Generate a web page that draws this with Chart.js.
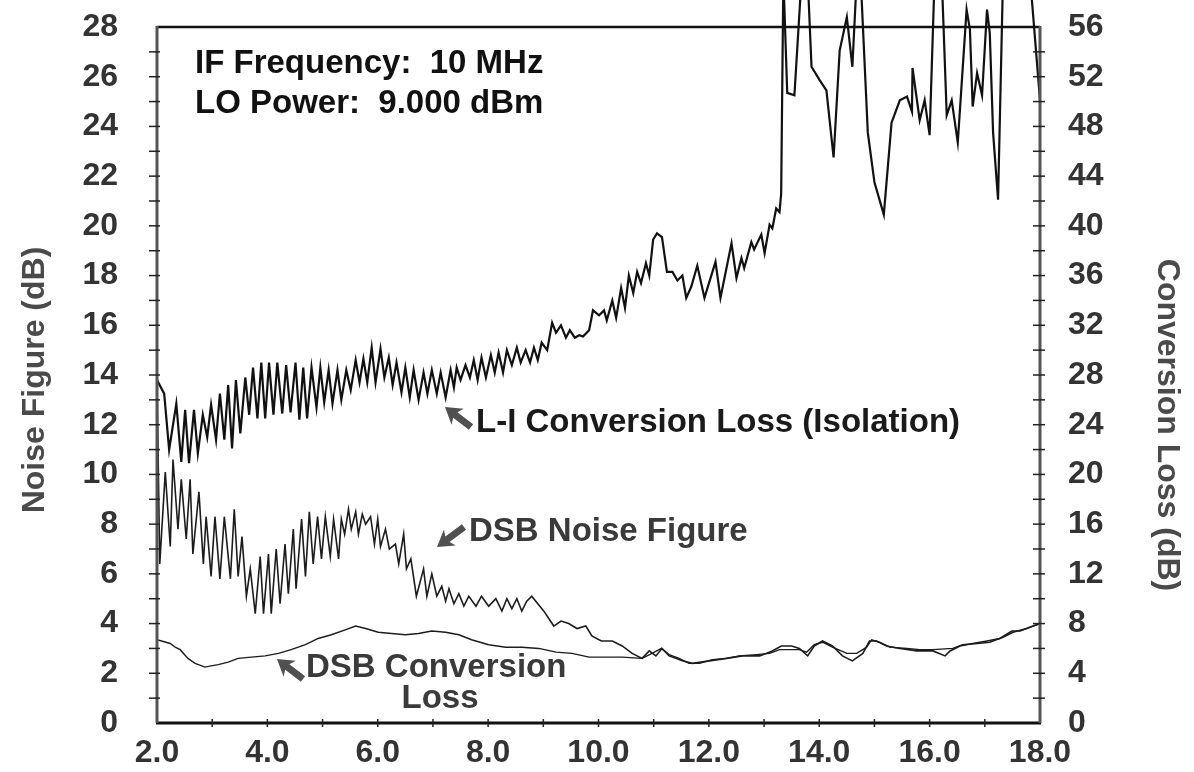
<!DOCTYPE html>
<html>
<head>
<meta charset="utf-8">
<title>Mixer NF / Conversion Loss</title>
<script src="https://cdn.jsdelivr.net/npm/chart.js@4.4.1/dist/chart.umd.min.js"></script>
<style>
  html, body { margin: 0; padding: 0; background: #fff; }
  #wrap { width: 1194px; height: 772px; position: relative; }
</style>
</head>
<body>
<div id="wrap"><canvas id="mixerChart"></canvas></div>
<script>
// frequency in GHz, [freq, dB]
// L-I conversion loss (isolation), right axis
const isolation = [
  [2.00,27.6],[2.13,26.5],[2.22,22.0],[2.35,25.7],[2.44,21.0],[2.51,25.2],[2.58,20.9],[2.67,25.2],
  [2.74,21.7],[2.83,24.8],[2.91,23.0],[2.98,25.6],[3.07,22.8],[3.14,26.5],[3.22,22.8],[3.29,27.2],
  [3.36,22.1],[3.43,27.6],[3.51,23.3],[3.60,27.8],[3.67,24.8],[3.74,28.6],[3.82,24.5],[3.89,29.0],
  [3.96,24.5],[4.03,29.0],[4.11,24.8],[4.18,29.0],[4.27,24.9],[4.34,28.8],[4.42,25.0],[4.51,29.0],
  [4.58,24.4],[4.65,28.6],[4.72,24.5],[4.80,28.6],[4.89,25.4],[4.96,28.6],[5.03,25.8],[5.11,28.4],
  [5.18,25.7],[5.27,28.4],[5.34,26.0],[5.43,28.4],[5.51,26.8],[5.60,29.2],[5.67,27.4],[5.74,29.3],
  [5.81,27.4],[5.89,30.2],[5.96,27.4],[6.05,30.1],[6.12,27.8],[6.20,29.4],[6.27,27.2],[6.34,29.0],
  [6.43,26.6],[6.50,28.6],[6.58,26.2],[6.65,28.4],[6.74,26.0],[6.83,28.2],[6.90,26.5],[6.98,28.4],
  [7.07,26.5],[7.14,28.2],[7.23,26.2],[7.32,28.4],[7.38,27.0],[7.43,28.6],[7.50,27.6],[7.59,28.8],
  [7.67,27.8],[7.74,29.2],[7.81,27.6],[7.88,29.4],[7.96,27.8],[8.05,29.6],[8.12,28.2],[8.19,29.8],
  [8.27,28.2],[8.34,30.0],[8.43,28.8],[8.52,30.2],[8.59,29.0],[8.68,30.0],[8.76,29.0],[8.83,30.2],
  [8.90,29.2],[8.97,30.6],[9.07,30.0],[9.16,32.2],[9.23,31.4],[9.32,32.0],[9.41,31.0],[9.48,31.6],
  [9.57,31.0],[9.65,31.2],[9.72,31.1],[9.83,31.6],[9.90,33.2],[10.01,32.8],[10.10,33.2],[10.15,32.4],
  [10.25,34.0],[10.32,32.6],[10.41,35.0],[10.48,33.4],[10.55,36.0],[10.63,34.6],[10.70,36.3],[10.77,35.4],
  [10.86,37.0],[10.92,36.0],[10.99,38.9],[11.06,39.4],[11.15,39.1],[11.24,36.3],[11.34,36.3],[11.43,35.6],
  [11.52,36.0],[11.59,34.2],[11.68,35.1],[11.79,36.8],[11.92,34.2],[12.12,37.1],[12.21,34.2],[12.41,38.6],
  [12.50,35.8],[12.59,37.4],[12.64,36.6],[12.77,38.7],[12.82,38.1],[12.95,39.3],[13.01,37.8],[13.10,40.1],
  [13.15,39.8],[13.22,41.4],[13.28,41.1],[13.31,42.6],[13.35,60],[13.42,50.7],[13.55,50.5],[13.68,60],
  [13.79,60],[13.86,52.8],[14.01,51.7],[14.13,50.9],[14.26,45.5],[14.37,54.1],[14.50,56.8],[14.60,52.8],
  [14.68,60],[14.75,60],[14.88,47.5],[15.00,43.5],[15.17,40.9],[15.31,48.3],[15.46,50.1],[15.59,50.4],
  [15.68,49.2],[15.69,52.7],[15.82,48.5],[15.91,50.1],[16.00,47.3],[16.09,60],[16.22,60],[16.31,48.9],
  [16.40,50.1],[16.51,46.7],[16.67,57.4],[16.73,55.8],[16.78,49.6],[16.86,52.3],[16.95,50.5],[17.04,57.4],
  [17.09,55.5],[17.15,47.5],[17.24,42.1],[17.33,60],[17.82,60],[18.00,50.1]
];

// DSB noise figure, left axis
const noiseFigure = [
  [2.00,13.8],[2.05,6.4],[2.15,10.1],[2.24,7.1],[2.29,10.6],[2.38,7.8],[2.44,9.8],[2.53,7.4],
  [2.60,9.8],[2.65,6.8],[2.76,9.3],[2.84,6.4],[2.89,8.3],[2.98,5.9],[3.05,8.3],[3.14,5.8],
  [3.22,8.3],[3.33,5.8],[3.40,8.6],[3.47,5.9],[3.54,7.5],[3.62,5.1],[3.69,6.2],[3.78,4.4],
  [3.87,6.7],[3.93,4.4],[4.02,6.8],[4.07,4.4],[4.16,7.0],[4.23,4.8],[4.32,7.2],[4.38,5.2],
  [4.47,7.8],[4.52,5.4],[4.62,8.2],[4.69,5.9],[4.76,8.5],[4.83,6.4],[4.91,8.3],[4.98,6.6],
  [5.05,8.3],[5.14,6.7],[5.20,8.2],[5.29,6.6],[5.34,8.2],[5.40,7.6],[5.47,8.6],[5.52,7.8],
  [5.60,8.5],[5.65,7.6],[5.72,8.4],[5.78,8.0],[5.87,8.3],[5.94,7.2],[6.00,8.2],[6.05,7.1],
  [6.14,7.8],[6.21,7.0],[6.32,7.2],[6.38,6.4],[6.47,7.6],[6.52,6.2],[6.60,6.6],[6.70,5.1],
  [6.83,6.2],[6.89,5.1],[6.98,6.0],[7.07,5.1],[7.16,5.5],[7.23,4.9],[7.29,5.4],[7.38,4.8],
  [7.47,5.2],[7.56,4.7],[7.65,5.1],[7.78,4.7],[7.88,5.1],[8.01,4.7],[8.14,5.0],[8.25,4.5],
  [8.34,5.0],[8.43,4.6],[8.52,5.0],[8.61,4.5],[8.70,4.9],[8.79,5.1],[9.01,4.5],[9.19,3.9],
  [9.32,4.1],[9.46,4.0],[9.61,3.8],[9.77,3.9],[9.88,3.5],[10.05,3.3],[10.15,3.3],[10.25,3.3],
  [10.43,3.1],[10.61,2.8],[10.79,2.6],[10.92,2.9],[11.04,2.7],[11.15,3.0],[11.28,2.7],[11.52,2.5],
  [11.70,2.4],[12.01,2.5],[12.32,2.6],[12.61,2.7],[12.92,2.7],[13.15,2.9],[13.31,3.1],[13.50,3.1],
  [13.64,3.0],[13.79,2.7],[13.91,3.1],[14.06,3.3],[14.24,3.1],[14.42,2.7],[14.60,2.5],[14.79,2.8],
  [14.91,3.3],[15.04,3.3],[15.22,3.1],[15.46,3.0],[15.77,2.9],[16.06,2.9],[16.28,2.7],[16.37,2.9],
  [16.55,3.1],[16.78,3.2],[17.04,3.3],[17.27,3.4],[17.49,3.7],[17.64,3.7],[17.87,3.9],[18.00,4.0]
];

// DSB conversion loss, right axis
const convLoss = [
  [2.00,6.7],[2.24,6.4],[2.33,6.1],[2.42,5.9],[2.56,5.2],[2.69,4.8],[2.87,4.5],[2.98,4.6],
  [3.11,4.7],[3.29,4.9],[3.47,5.2],[3.71,5.3],[3.96,5.4],[4.20,5.6],[4.43,5.9],[4.69,6.3],
  [4.92,6.8],[5.16,7.1],[5.41,7.5],[5.60,7.8],[5.78,7.6],[6.01,7.3],[6.25,7.2],[6.50,7.1],
  [6.74,7.2],[6.98,7.4],[7.23,7.3],[7.47,7.1],[7.70,6.7],[8.01,6.3],[8.32,6.1],[8.61,6.1],
  [8.92,6.0],[9.23,5.7],[9.52,5.6],[9.83,5.3],[10.14,5.3],[10.43,5.3],[10.79,5.2],[10.97,5.6],
  [11.14,6.0],[11.28,5.5],[11.46,5.2],[11.64,4.8],[11.83,4.8],[12.06,5.1],[12.32,5.2],[12.55,5.4],
  [12.86,5.5],[13.10,5.6],[13.28,5.9],[13.46,5.9],[13.64,5.9],[13.77,5.7],[13.91,6.3],[14.06,6.5],
  [14.24,6.1],[14.50,5.6],[14.68,5.6],[14.86,6.1],[14.95,6.7],[15.09,6.5],[15.28,6.1],[15.59,6.0],
  [15.82,5.9],[16.06,5.9],[16.42,6.0],[16.60,6.3],[16.86,6.4],[17.09,6.5],[17.33,6.9],[17.51,7.3],
  [17.76,7.6],[18.00,8.0]
];

const FONT = 'Liberation Sans, Arial, Helvetica, sans-serif';

const toXY = arr => arr.map(p => ({ x: p[0], y: p[1] }));

// fixed axis boxes, no label overhang padding
const fixBox = size => s => {
  if (s.isHorizontal()) s.height = size; else s.width = size;
  s.paddingTop = s.paddingBottom = s.paddingLeft = s.paddingRight = 0;
};

// frame, crossing tick marks, axis titles and the call-out labels
const decorations = {
  id: 'decorations',
  afterDatasetsDraw(chart) {
    const { ctx, chartArea: a, scales } = chart;
    ctx.save();

    // frame
    ctx.lineCap = 'butt';
    ctx.strokeStyle = '#111';
    ctx.lineWidth = 2.5;
    ctx.beginPath(); ctx.moveTo(a.left, a.top); ctx.lineTo(a.right, a.top); ctx.stroke();
    ctx.lineWidth = 3;
    ctx.beginPath(); ctx.moveTo(a.left - 1, a.bottom); ctx.lineTo(a.right + 1, a.bottom); ctx.stroke();
    ctx.strokeStyle = '#555';
    ctx.beginPath(); ctx.moveTo(a.left, a.top - 1); ctx.lineTo(a.left, a.bottom); ctx.stroke();
    ctx.beginPath(); ctx.moveTo(a.right, a.top - 1); ctx.lineTo(a.right, a.bottom); ctx.stroke();

    // tick marks
    ctx.lineWidth = 1.5;
    ctx.strokeStyle = '#222';
    for (let v = 1; v < 28; v++) {
      const y = scales.y.getPixelForValue(v);
      ctx.beginPath(); ctx.moveTo(a.left - 8, y); ctx.lineTo(a.left + 3, y); ctx.stroke();
    }
    for (let v = 2; v < 56; v += 2) {
      const y = scales.y2.getPixelForValue(v);
      ctx.beginPath(); ctx.moveTo(a.right - 7, y); ctx.lineTo(a.right + 5, y); ctx.stroke();
    }
    for (let v = 3; v < 18; v++) {
      const x = scales.x.getPixelForValue(v);
      ctx.beginPath(); ctx.moveTo(x, a.bottom - 4); ctx.lineTo(x, a.bottom + 4); ctx.stroke();
    }

    // axis titles
    ctx.fillStyle = '#4a4a4a';
    ctx.font = 'bold 32px ' + FONT;
    ctx.textAlign = 'center';
    ctx.textBaseline = 'middle';
    ctx.save();
    ctx.translate(35, 380);
    ctx.rotate(-Math.PI / 2);
    ctx.fillText('Noise Figure (dB)', 0, 0);
    ctx.restore();
    ctx.save();
    ctx.translate(1167, 425);
    ctx.rotate(Math.PI / 2);
    ctx.fillText('Conversion Loss (dB)', 0, 0);
    ctx.restore();

    // header notes
    ctx.fillStyle = '#111';
    ctx.textAlign = 'left';
    ctx.textBaseline = 'alphabetic';
    ctx.font = 'bold 33px ' + FONT;
    ctx.fillText('IF Frequency:  10 MHz', 195, 73);
    ctx.fillText('LO Power:  9.000 dBm', 195, 113);

    // call-outs
    ctx.fillStyle = '#1a1a1a';
    ctx.fillText('L-I Conversion Loss (Isolation)', 476, 432);
    ctx.fillStyle = '#3a3a3a';
    ctx.fillText('DSB Noise Figure', 469, 541);
    ctx.fillText('DSB Conversion', 306, 677);
    ctx.textAlign = 'center';
    ctx.fillText('Loss', 440, 708);

    arrow(ctx, 471, 427, 445, 407);
    arrow(ctx, 464, 527, 437, 547);
    arrow(ctx, 303, 679, 277, 659);

    ctx.restore();
  }
};

function arrow(ctx, x1, y1, x2, y2) {
  const ang = Math.atan2(y2 - y1, x2 - x1);
  const len = Math.hypot(x2 - x1, y2 - y1);
  ctx.save();
  ctx.translate(x2, y2);
  ctx.rotate(ang);
  ctx.fillStyle = '#505050';
  ctx.beginPath();
  ctx.moveTo(0, 0);
  ctx.lineTo(-16, -10);
  ctx.lineTo(-13, -3.5);
  ctx.lineTo(-len, -3.5);
  ctx.lineTo(-len, 3.5);
  ctx.lineTo(-13, 3.5);
  ctx.lineTo(-16, 10);
  ctx.closePath();
  ctx.fill();
  ctx.restore();
}

const tickFont = { family: FONT, size: 32, weight: 'bold' };

new Chart(document.getElementById('mixerChart'), {
  type: 'line',
  data: {
    datasets: [
      {
        label: 'L-I Conversion Loss (Isolation)',
        data: toXY(isolation),
        yAxisID: 'y2',
        borderColor: '#111',
        borderWidth: 2.2,
        pointRadius: 0,
        tension: 0,
        clip: { left: 2, top: 40, right: 2, bottom: 2 }
      },
      {
        label: 'DSB Noise Figure',
        data: toXY(noiseFigure),
        yAxisID: 'y',
        borderColor: '#1c1c1c',
        borderWidth: 1.6,
        pointRadius: 0,
        tension: 0
      },
      {
        label: 'DSB Conversion Loss',
        data: toXY(convLoss),
        yAxisID: 'y2',
        borderColor: '#1c1c1c',
        borderWidth: 1.4,
        pointRadius: 0,
        tension: 0
      }
    ]
  },
  options: {
    responsive: true,
    maintainAspectRatio: false,
    animation: false,
    layout: { autoPadding: false, padding: { top: 27, left: 0, right: 0, bottom: 0 } },
    plugins: { legend: { display: false }, tooltip: { enabled: false } },
    scales: {
      x: {
        type: 'linear',
        min: 2, max: 18,
        grid: { display: false, drawTicks: false },
        border: { display: false },
        ticks: {
          stepSize: 1, autoSkip: false, maxRotation: 0,
          padding: 11, color: '#333', font: tickFont,
          callback: v => (v % 2 === 0 ? v.toFixed(1) : '')
        },
        afterFit: fixBox(49)
      },
      y: {
        position: 'left',
        min: 0, max: 28,
        grid: { display: false, drawTicks: false },
        border: { display: false },
        ticks: {
          stepSize: 1, autoSkip: false,
          padding: 39, color: '#333', font: tickFont,
          callback: v => (v % 2 === 0 ? String(v) : '')
        },
        afterFit: fixBox(157)
      },
      y2: {
        position: 'right',
        min: 0, max: 56,
        grid: { display: false, drawTicks: false },
        border: { display: false },
        ticks: {
          stepSize: 2, autoSkip: false,
          padding: 28, color: '#333', font: tickFont,
          callback: v => (v % 4 === 0 ? String(v) : '')
        },
        afterFit: fixBox(154)
      }
    }
  },
  plugins: [decorations]
});
</script>
</body>
</html>
